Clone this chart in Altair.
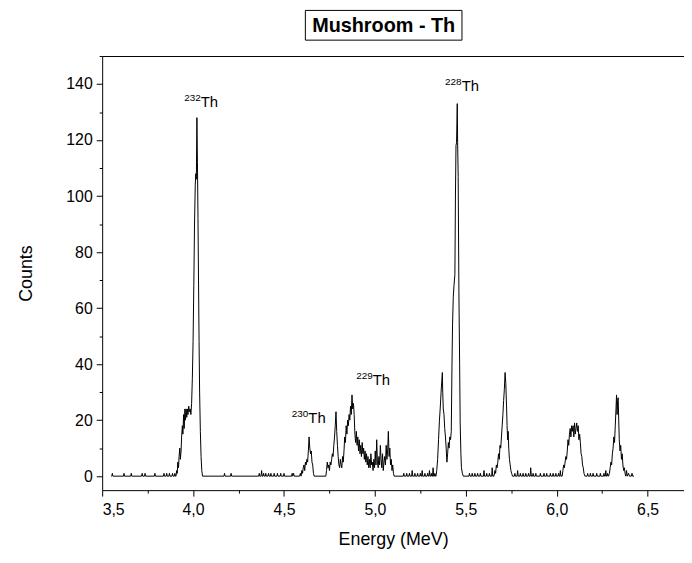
import altair as alt
import pandas as pd

# ---- spectrum values: (energy MeV, counts) ----
baseline_a = [(3.550,0),(3.553,0),(3.556,1),(3.559,0),(3.617,0),(3.620,1),(3.623,0),(3.657,0),(3.660,1),(3.663,0),
              (3.717,0),(3.720,1),(3.723,0),(3.733,0),(3.736,1),(3.739,0),(3.787,0),(3.790,1),(3.793,0),(3.837,0),
              (3.840,1),(3.843,0),(3.852,0),(3.855,1),(3.858,0),(3.867,0),(3.870,1),(3.873,0),(3.884,0),(3.887,1),
              (3.890,0),(3.897,0),(3.900,1),(3.903,0)]
peak_232 = [(3.906,0),(3.910,2),(3.913,1),(3.916,5),(3.920,3),(3.923,7),(3.927,10),(3.930,6),(3.934,9),(3.937,14),
            (3.941,18),(3.944,15),(3.948,22),(3.951,17),(3.955,24),(3.958,20),(3.962,24),(3.965,21),(3.969,24),
            (3.972,22),(3.976,25),(3.980,23),(3.984,24),(3.988,22),(3.992,26),(3.996,35),(4.000,48),(4.004,68),
            (4.008,90),(4.012,104),(4.015,108),(4.018,106),(4.021,128),(4.024,112),(4.027,92),(4.030,70),(4.033,48),
            (4.036,30),(4.040,16),(4.044,7),(4.048,2),(4.052,0)]
baseline_b = [(4.170,0),(4.173,1),(4.176,0),(4.206,0),(4.209,1),(4.212,0),(4.361,0),(4.364,1),(4.367,0),(4.374,0),
              (4.377,2),(4.380,0),(4.385,0),(4.388,1),(4.391,0),(4.397,0),(4.400,1),(4.403,0),(4.412,0),(4.415,1),
              (4.418,0),(4.425,0),(4.428,1),(4.431,0),(4.443,0),(4.446,1),(4.449,0),(4.461,0),(4.464,1),(4.467,0),
              (4.479,0),(4.482,1),(4.485,0),(4.497,0),(4.500,1),(4.503,0),(4.542,0),(4.545,1),(4.548,0),(4.553,1),
              (4.556,0)]
peak_230 = [(4.586,0),(4.590,1),(4.594,0),(4.598,2),(4.602,1),(4.606,3),(4.610,4),(4.614,2),(4.618,5),(4.622,4),
            (4.626,6),(4.630,5),(4.634,9),(4.638,14),(4.642,10),(4.646,8),(4.650,9),(4.654,5),(4.658,4),(4.662,1),
            (4.666,0)]
peak_229 = [(4.730,0),(4.734,2),(4.738,5),(4.742,3),(4.746,4),(4.750,2),(4.754,5),(4.758,4),(4.762,6),(4.766,8),
            (4.770,7),(4.774,11),(4.778,14),(4.782,18),(4.786,23),(4.790,16),(4.794,11),(4.798,7),(4.802,4),(4.806,3),
            (4.810,6),(4.814,4),(4.818,3),(4.822,7),(4.826,5),(4.830,9),(4.834,14),(4.838,12),(4.842,18),(4.846,15),
            (4.850,20),(4.854,18),(4.858,22),(4.862,20),(4.866,25),(4.870,22),(4.874,29),(4.878,24),(4.882,26),
            (4.886,22),(4.890,15),(4.894,12),(4.898,16),(4.902,11),(4.906,14),(4.910,9),(4.914,13),(4.918,8),
            (4.922,11),(4.926,7),(4.930,12),(4.934,8),(4.938,10),(4.942,6),(4.946,9),(4.950,5),(4.954,8),(4.958,4),
            (4.962,7),(4.966,3),(4.970,6),(4.974,3),(4.978,8),(4.982,4),(4.986,5),(4.990,2),(4.994,6),(4.998,3),
            (5.002,9),(5.006,4),(5.010,13),(5.014,5),(5.018,3),(5.022,7),(5.026,4),(5.030,11),(5.034,6),(5.038,3),
            (5.042,8),(5.046,2),(5.050,5),(5.054,7),(5.058,4),(5.062,11),(5.066,6),(5.070,9),(5.074,16),(5.078,7),
            (5.082,10),(5.086,4),(5.090,6),(5.094,2),(5.098,4),(5.102,1),(5.106,0)]
baseline_c = [(5.156,0),(5.159,1),(5.162,0),(5.172,0),(5.175,1),(5.178,0),(5.187,0),(5.190,1),(5.193,0),(5.202,0),
              (5.205,2),(5.208,0),(5.217,0),(5.220,1),(5.223,0),(5.232,0),(5.235,1),(5.238,0),(5.247,0),(5.250,1),
              (5.253,0),(5.257,0),(5.260,2),(5.263,0),(5.272,0),(5.275,1),(5.278,0),(5.287,0),(5.290,1),(5.293,0),
              (5.297,0),(5.300,2),(5.303,0),(5.307,0),(5.310,1),(5.313,0),(5.317,0),(5.320,3),(5.323,0),(5.327,0),
              (5.330,1),(5.333,0)]
peak_228 = [(5.336,0),(5.340,2),(5.345,6),(5.350,13),(5.355,20),(5.359,24),(5.364,30),(5.368,34),(5.371,37),
            (5.373,30),(5.376,24),(5.380,22),(5.384,17),(5.388,14),(5.392,10),(5.396,5),(5.400,8),(5.404,12),
            (5.408,10),(5.412,14),(5.416,13),(5.420,16),(5.424,40),(5.427,54),(5.431,64),(5.435,68),(5.440,72),
            (5.443,100),(5.446,118),(5.449,119),(5.451,126),(5.453,133),(5.455,119),(5.458,107),(5.462,66),
            (5.466,40),(5.469,19),(5.473,8),(5.476,3),(5.481,1),(5.486,0)]
baseline_d = [(5.517,0),(5.520,1),(5.523,0),(5.532,0),(5.535,1),(5.538,0),(5.547,0),(5.550,1),(5.553,0),(5.562,0),
              (5.565,1),(5.568,0),(5.577,0),(5.580,1),(5.583,0),(5.597,0),(5.600,2),(5.603,0),(5.612,0),(5.615,1),
              (5.618,0),(5.627,0),(5.630,1),(5.633,0),(5.642,0),(5.645,3),(5.648,0)]
peak_572 = [(5.655,0),(5.660,2),(5.664,1),(5.668,4),(5.672,3),(5.676,5),(5.680,8),(5.684,6),(5.688,11),(5.692,10),
            (5.696,14),(5.700,18),(5.704,22),(5.708,27),(5.712,31),(5.716,37),(5.720,33),(5.724,25),(5.727,18),
            (5.730,13),(5.733,16),(5.736,10),(5.740,6),(5.744,4),(5.748,2),(5.752,1),(5.757,0)]
baseline_e = [(5.767,0),(5.770,1),(5.773,0),(5.782,0),(5.785,2),(5.788,0),(5.797,0),(5.800,1),(5.803,0),(5.812,0),
              (5.815,1),(5.818,0),(5.827,0),(5.830,1),(5.833,0),(5.842,0),(5.845,1),(5.848,0),(5.854,0),(5.857,3),
              (5.860,0),(5.867,0),(5.870,1),(5.873,0),(5.882,0),(5.885,1),(5.888,0),(5.907,0),(5.910,1),(5.913,0),
              (5.927,0),(5.930,1),(5.933,0),(5.942,0),(5.945,1),(5.948,0),(5.962,0),(5.965,1),(5.968,0),(5.977,0),
              (5.980,1),(5.983,0),(5.992,0),(5.995,1),(5.998,0),(6.007,0),(6.010,1),(6.013,0),(6.017,0),(6.020,2),
              (6.023,0)]
peak_611 = [(6.030,0),(6.034,2),(6.038,4),(6.042,3),(6.046,5),(6.050,7),(6.054,6),(6.058,9),(6.062,13),(6.066,11),
            (6.070,15),(6.074,17),(6.078,14),(6.082,18),(6.086,16),(6.090,18),(6.094,14),(6.098,19),(6.102,15),
            (6.106,17),(6.110,19),(6.114,16),(6.118,18),(6.122,13),(6.126,15),(6.130,12),(6.134,8),(6.138,7),
            (6.142,4),(6.146,3),(6.150,1),(6.155,0)]
baseline_f = [(6.167,0),(6.170,1),(6.173,0),(6.182,0),(6.185,1),(6.188,0),(6.197,0),(6.200,1),(6.203,0),(6.217,0),
              (6.220,1),(6.223,0),(6.237,0),(6.240,1),(6.243,0),(6.257,0),(6.260,1),(6.263,0),(6.267,0),(6.270,2),
              (6.273,0),(6.277,0),(6.280,1),(6.283,0)]
peak_633 = [(6.285,0),(6.290,1),(6.294,3),(6.298,5),(6.302,4),(6.306,8),(6.310,10),(6.314,14),(6.318,12),(6.322,18),
            (6.326,24),(6.329,29),(6.332,22),(6.335,27),(6.338,28),(6.341,20),(6.344,13),(6.348,9),(6.352,11),
            (6.356,6),(6.360,8),(6.364,4),(6.368,2),(6.372,3),(6.376,1),(6.380,0),(6.384,2),(6.388,0),(6.395,1),
            (6.400,0),(6.410,0),(6.414,1),(6.418,0),(6.425,0)]

# isotope annotations
iso_mass = ["232", "230", "229", "228"]
iso_energy = [4.042, 4.634, 4.988, 5.477]
iso_counts = [131.8, 19.0, 32.5, 137.5]

# axis ticks
x_major = [3.5, 4.0, 4.5, 5.0, 5.5, 6.0, 6.5]
x_minor = [3.75, 4.25, 4.75, 5.25, 5.75, 6.25]
y_major = [0, 20, 40, 60, 80, 100, 120, 140]
y_minor = [10, 30, 50, 70, 90, 110, 130, 150]

segments = [baseline_a, peak_232, baseline_b, peak_230, peak_229, baseline_c, peak_228,
            baseline_d, peak_572, baseline_e, peak_611, baseline_f, peak_633]
rows = [p for seg in segments for p in seg]
df = pd.DataFrame(rows, columns=["E", "C"])
iso_df = pd.DataFrame({"mass": iso_mass, "E": iso_energy, "C": iso_counts})

FONT = "Liberation Sans"
xs = alt.Scale(domain=[3.5, 6.7], nice=False, zero=False)
ys = alt.Scale(domain=[-5, 150], nice=False, zero=False)

x_major_axis = alt.Axis(orient="bottom", values=x_major, tickSize=6, tickColor="black", domainColor="black",
                        labelExpr="replace(format(datum.value, '.1f'), '.', ',')",
                        labelFont=FONT, labelFontSize=16, labelColor="black", labelPadding=6,
                        title="Energy (MeV)", titleFont=FONT, titleFontSize=18, titleFontWeight="normal",
                        titleColor="black", titlePadding=13, grid=False)
x_minor_axis = alt.Axis(orient="bottom", values=x_minor, tickSize=3, tickColor="black", domain=False,
                        labels=False, title=None, grid=False)
x_top_axis = alt.Axis(orient="top", ticks=False, labels=False, domain=True, domainColor="black",
                      title=None, grid=False)
y_major_axis = alt.Axis(orient="left", values=y_major, tickSize=6, tickColor="black", domainColor="black",
                        labelFont=FONT, labelFontSize=16, labelColor="black", labelPadding=4,
                        title="Counts", titleFont=FONT, titleFontSize=18, titleFontWeight="normal",
                        titleColor="black", titlePadding=31, grid=False)
y_minor_axis = alt.Axis(orient="left", values=y_minor, tickSize=3, tickColor="black", domain=False,
                        labels=False, title=None, grid=False)

line = alt.Chart(df).mark_line(color="black", strokeWidth=1).encode(
    x=alt.X("E:Q", scale=xs, axis=x_major_axis),
    y=alt.Y("C:Q", scale=ys, axis=y_major_axis),
)
minor = alt.Chart(df).mark_line(opacity=0).encode(
    x=alt.X("E:Q", scale=xs, axis=x_minor_axis),
    y=alt.Y("C:Q", scale=ys, axis=y_minor_axis),
)
top = alt.Chart(df).mark_line(opacity=0).encode(
    x=alt.X("E:Q", scale=xs, axis=x_top_axis),
    y=alt.Y("C:Q", scale=ys, axis=None),
)
th_text = alt.Chart(iso_df).mark_text(align="left", baseline="alphabetic", font=FONT, fontSize=15,
                                      color="black").encode(
    x=alt.X("E:Q", scale=xs, axis=None),
    y=alt.Y("C:Q", scale=ys, axis=None),
    text=alt.value("Th"),
)
sup_text = alt.Chart(iso_df).mark_text(align="right", baseline="alphabetic", font=FONT, fontSize=10,
                                       dy=-6, color="black").encode(
    x=alt.X("E:Q", scale=xs, axis=None),
    y=alt.Y("C:Q", scale=ys, axis=None),
    text="mass:N",
)
title_box = alt.Chart(pd.DataFrame({"t": ["Mushroom - Th"]})).mark_rect(
    fill="white", stroke="black", strokeWidth=1).encode(
    x=alt.value(205), x2=alt.value(363), y=alt.value(-46), y2=alt.value(-16),
)
title_text = alt.Chart(pd.DataFrame({"t": ["Mushroom - Th"]})).mark_text(
    font=FONT, fontSize=20, fontWeight="bold", color="black", align="center", baseline="middle").encode(
    x=alt.value(284), y=alt.value(-30), text="t:N",
)

chart = alt.layer(line, minor, top, th_text, sup_text, title_box, title_text).resolve_axis(
    x="independent", y="independent"
).properties(
    width=587, height=438,
    autosize=alt.AutoSizeParams(type="none"),
    padding={"left": 95, "top": 46, "right": 0, "bottom": 64},
    background="white",
).configure_view(stroke=None)

chart.save("out.html", embed_options={"renderer": "svg", "actions": False})
